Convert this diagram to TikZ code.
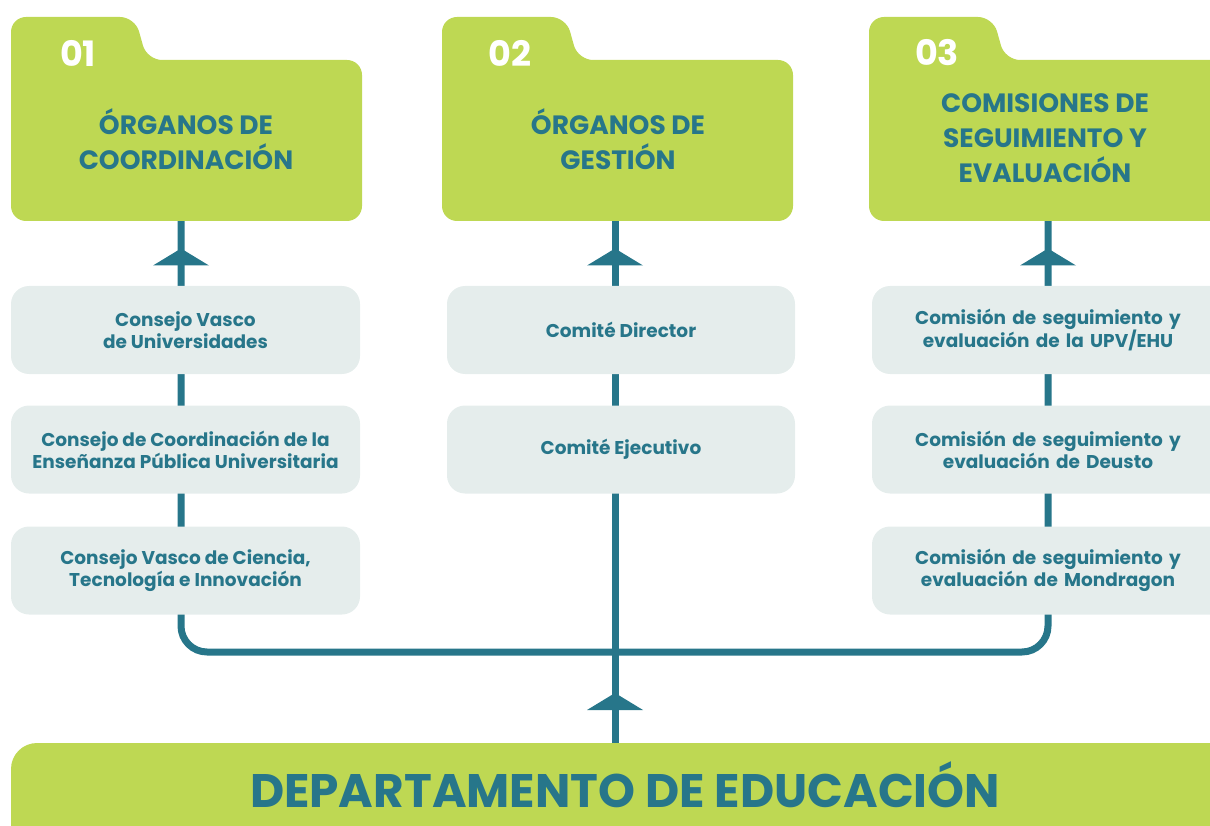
\documentclass[tikz,border=0pt]{standalone}
\usepackage{fontspec}
\setmainfont{Poppins}
\definecolor{limec}{HTML}{BED853}
\definecolor{tealc}{HTML}{27768A}
\definecolor{paleg}{HTML}{E5EDEC}
\begin{document}
\begin{tikzpicture}[x=1pt,y=-1pt,
  conn/.style={draw=tealc,line width=7pt},
  gbox/.style={fill=paleg,rounded corners=18pt,minimum height=88pt,inner sep=0pt,
     text=tealc,font=\fontsize{18.5}{22}\selectfont\bfseries,align=center},
  ftitle/.style={text=tealc,font=\fontsize{26.5}{35}\selectfont\bfseries,align=center},
  fnum/.style={text=white,font=\fontsize{35}{35}\selectfont\bfseries},
  uparrow/.pic={\fill[tealc] (-28,9) -- (0,-8) -- (28,9) -- cycle;}]
\useasboundingbox (0,0) rectangle (1210,826);
\newcommand\folderpath[2]{%
  \fill[limec] [rounded corners=15pt] (#1,221) -- (#1,17) -- (#1+124,17) -- (#1+136,60) -- (#2,60) -- (#2,221) -- cycle;}
% anchor coordinates
\coordinate (f1) at (181,221);
\coordinate (f2) at (615,221);
\coordinate (f3) at (1048,221);
\coordinate (hy) at (0,652);
\coordinate (dtop) at (615,743);
% connectors
\draw[conn,rounded corners=26pt] (f1) -- (f1 |- hy) -- (f3 |- hy) -- (f3);
\draw[conn] (dtop) -- (f2);
\pic at (181,256.5) {uparrow};
\pic at (615,256.5) {uparrow};
\pic at (1048,256.5) {uparrow};
\pic at (615,701) {uparrow};
% folders
\folderpath{11}{362}
\folderpath{442}{793}
\folderpath{869}{1225}
\node[fnum] (n1) at (78,53) {01};
\node[fnum] (n2) at (510,53) {02};
\node[fnum] (n3) at (937,53) {03};
\node[ftitle] (t1) at (186,139) {ÓRGANOS DE\\COORDINACIÓN};
\node[ftitle] (t2) at (618,139) {ÓRGANOS DE\\GESTIÓN};
\node[ftitle] (t3) at (1045,138.5) {COMISIONES DE\\SEGUIMIENTO Y\\EVALUACIÓN};
% boxes
\node[gbox,minimum width=349pt] (a1) at (185.5,330) {Consejo Vasco\\de Universidades};
\node[gbox,minimum width=349pt] (a2) at (185.5,449.5) {Consejo de Coordinación de la\\Enseñanza Pública Universitaria};
\node[gbox,minimum width=349pt] (a3) at (185.5,570.5) {Consejo Vasco de Ciencia,\\Tecnología e Innovación};
\node[gbox,minimum width=348pt] (b1) at (621,330) {Comité Director};
\node[gbox,minimum width=348pt] (b2) at (621,449.5) {Comité Ejecutivo};
\node[gbox,minimum width=360pt,text width=348pt] (c1) at (1052,330) {\hspace*{-8pt}Comisión de seguimiento y\\\hspace*{-8pt}evaluación de la UPV/EHU};
\node[gbox,minimum width=360pt,text width=348pt] (c2) at (1052,449.5) {\hspace*{-8pt}Comisión de seguimiento y\\\hspace*{-8pt}evaluación de Deusto};
\node[gbox,minimum width=360pt,text width=348pt] (c3) at (1052,570.5) {\hspace*{-8pt}Comisión de seguimiento y\\\hspace*{-8pt}evaluación de Mondragon};
% department
\node[fill=limec,rounded corners=26pt,minimum width=1230pt,minimum height=130pt,inner sep=0pt] (dbox) at (626,808) {};
\node[text=tealc,font=\fontsize{47}{47}\selectfont\bfseries] (dtext) at (625,785) {DEPARTAMENTO DE EDUCACIÓN};
\end{tikzpicture}
\end{document}
